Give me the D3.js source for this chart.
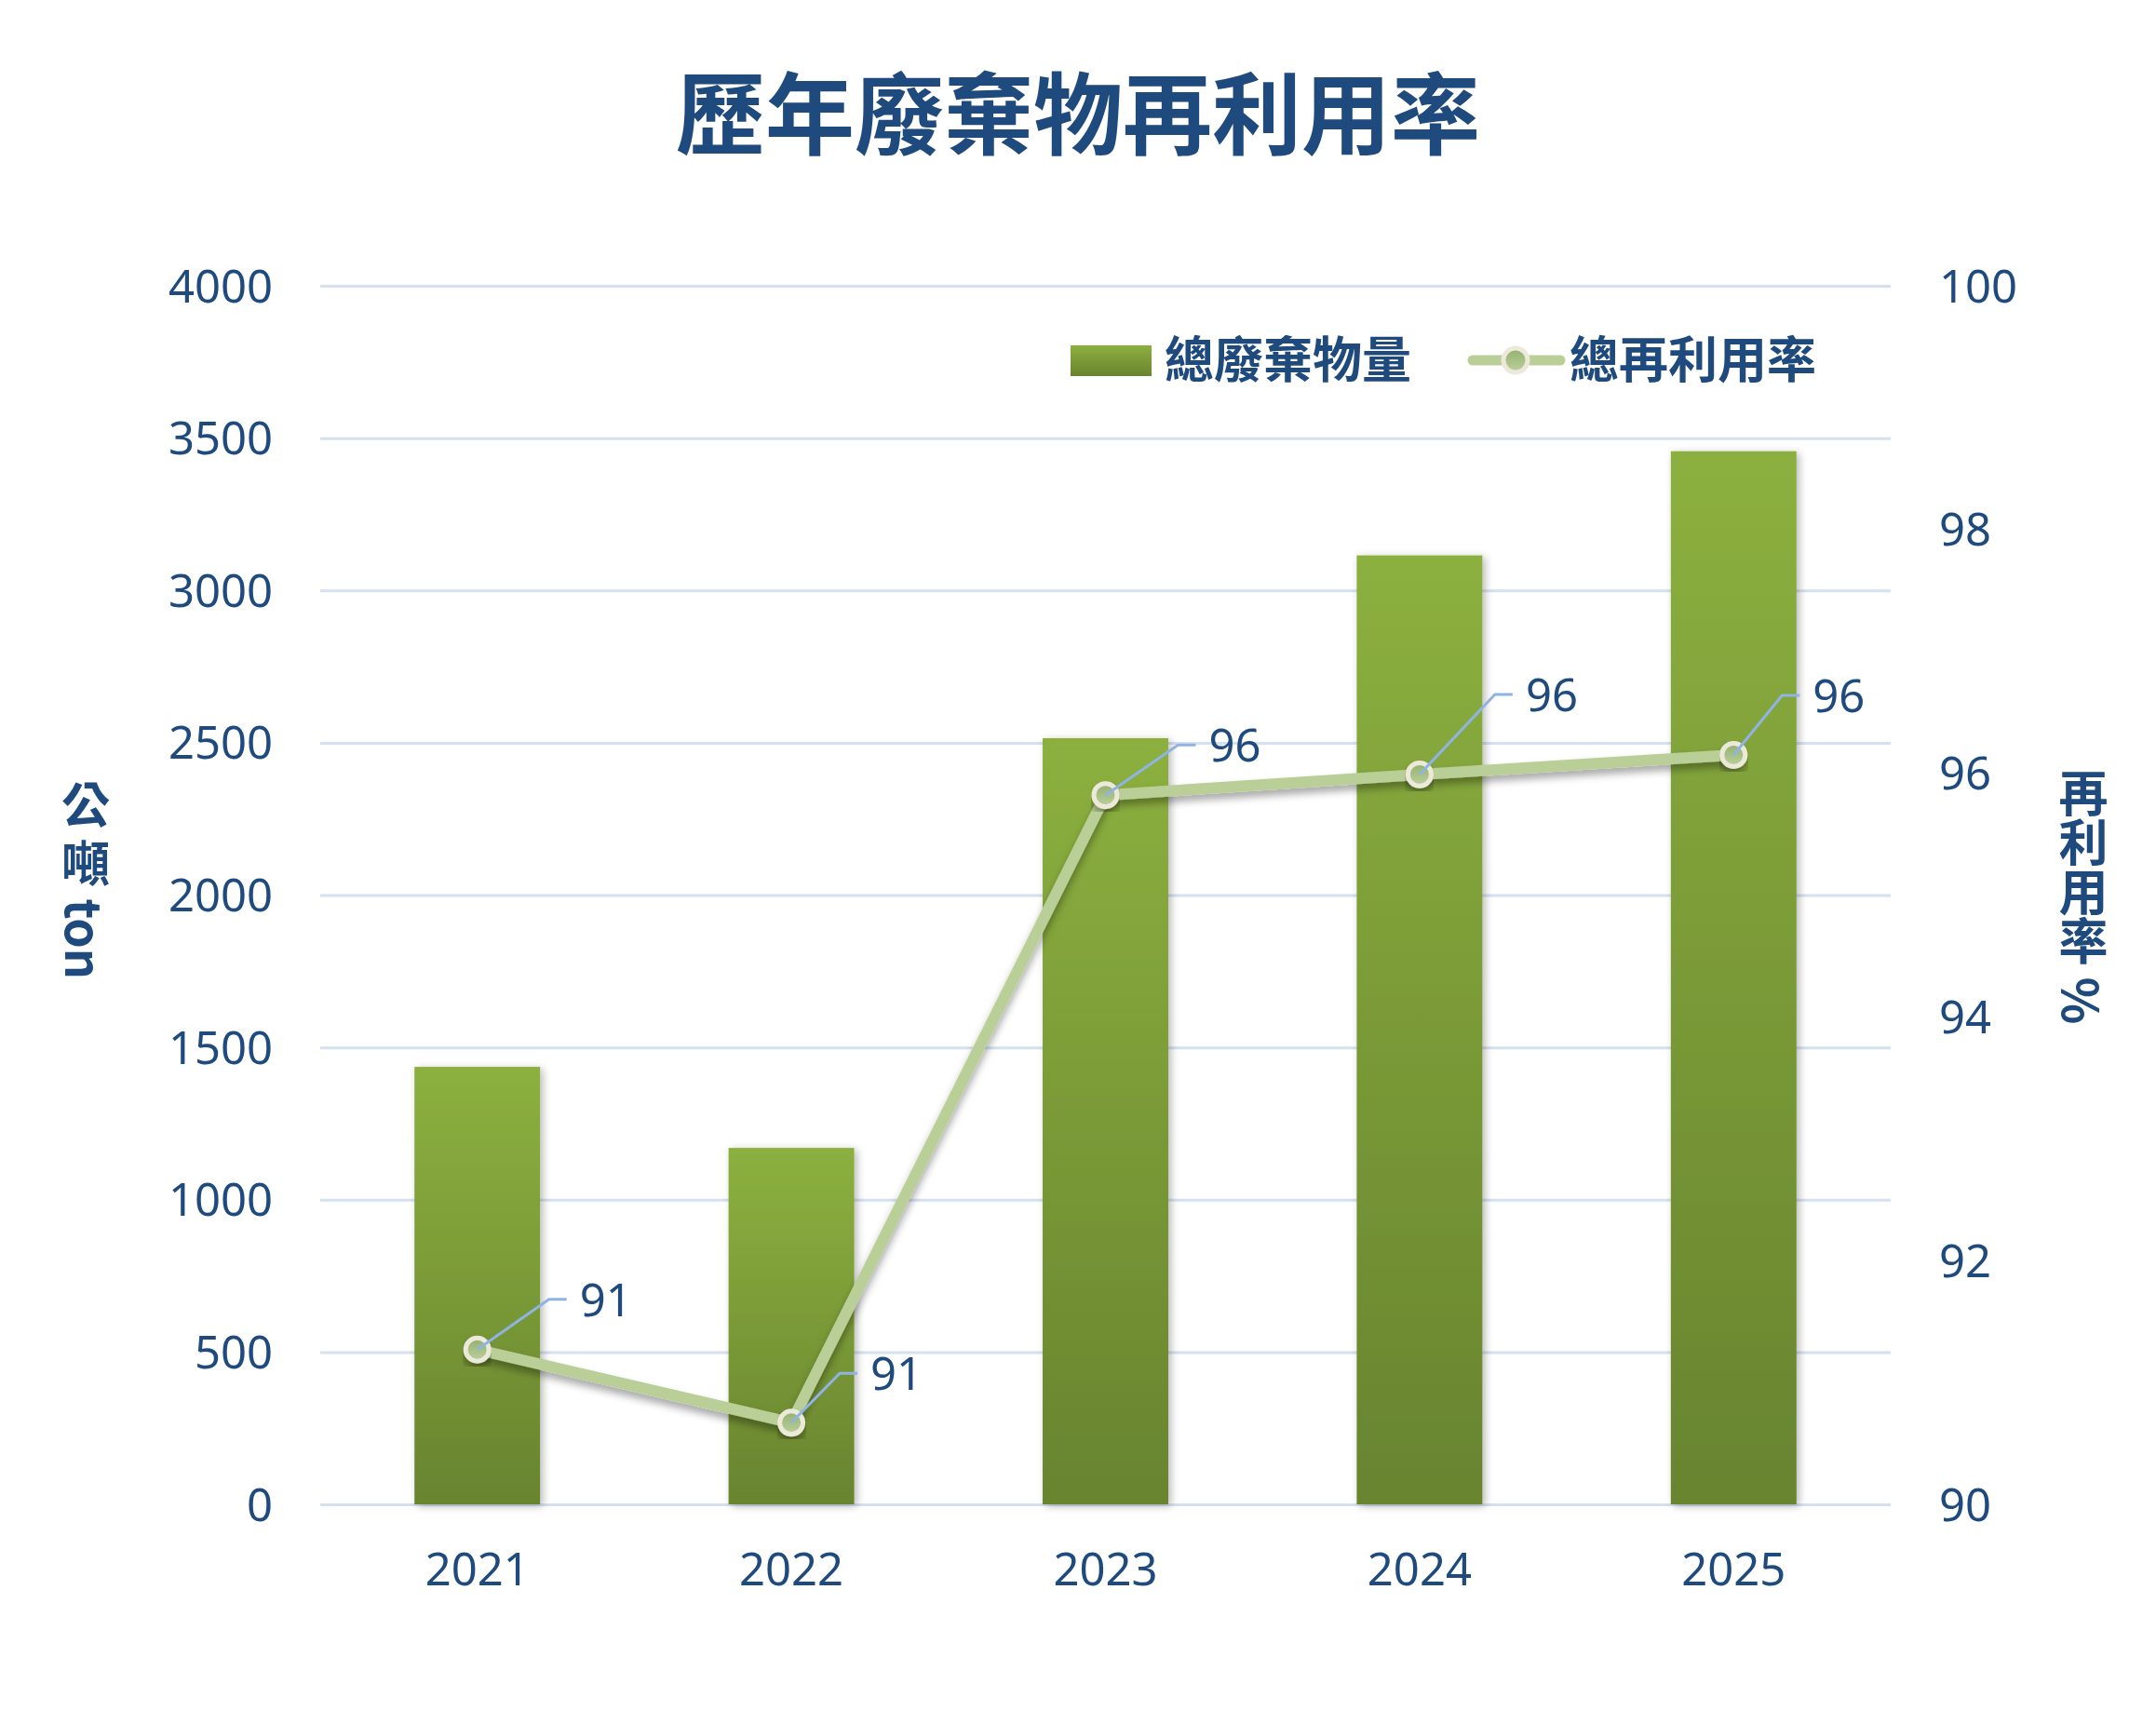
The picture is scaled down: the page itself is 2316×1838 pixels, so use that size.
<!DOCTYPE html>
<html><head><meta charset="utf-8">
<script src="https://cdn.jsdelivr.net/npm/d3@7"></script>
<style>
html,body{margin:0;padding:0;background:#fff;}
svg{display:block;}
text{font-family:"Noto Sans","Noto Sans CJK TC",sans-serif;}
</style></head>
<body>
<svg id="chart" width="2316" height="1838"></svg>
<script>
// ---- data ----
const years = ["2021", "2022", "2023", "2024", "2025"];
const wasteTons = [1436, 1170, 2515, 3115, 3457];
const reuseRate = [91.27, 90.67, 95.82, 95.99, 96.15];
const leftTicks = [0, 500, 1000, 1500, 2000, 2500, 3000, 3500, 4000];
const rightTicks = [90, 92, 94, 96, 98, 100];
const titleText = "歷年廢棄物再利用率";
const seriesNames = ["總廢棄物量", "總再利用率"];
const leftAxisTitle = "公 噸 ton";
const rightAxisTitle = "再利用率 %";

// ---- layout ----
const W = 2316, H = 1838;
const X0 = 344, X1 = 2031, YT = 307, YB = 1616;
const BLUE = "#1f4a7e";
const svg = d3.select("#chart");

const defs = svg.append("defs");
const bg = defs.append("linearGradient").attr("id","barGrad").attr("x1",0).attr("y1",0).attr("x2",0).attr("y2",1);
bg.append("stop").attr("offset","0%").attr("stop-color","#8cb03f");
bg.append("stop").attr("offset","100%").attr("stop-color","#68842f");
const mg = defs.append("linearGradient").attr("id","mkGrad").attr("x1",0).attr("y1",0).attr("x2",0).attr("y2",1);
mg.append("stop").attr("offset","0%").attr("stop-color","#92b06c");
mg.append("stop").attr("offset","100%").attr("stop-color","#bcd19f");
const f1 = defs.append("filter").attr("id","barShadow").attr("x","-20%").attr("y","-5%").attr("width","140%").attr("height","110%");
f1.append("feDropShadow").attr("dx",3).attr("dy",2).attr("stdDeviation",4).attr("flood-color","#000").attr("flood-opacity",0.28);
const f2 = defs.append("filter").attr("id","lineShadow").attr("x","-10%").attr("y","-10%").attr("width","120%").attr("height","130%");
f2.append("feDropShadow").attr("dx",0).attr("dy",6).attr("stdDeviation",4).attr("flood-color","#000").attr("flood-opacity",0.35);

const x = d3.scaleBand().domain(years).range([X0, X1]).padding(0);
const yL = d3.scaleLinear().domain([0, 4000]).range([YB, YT]);
const yR = d3.scaleLinear().domain([90, 100]).range([YB, YT]);
const barW = x.bandwidth() * 0.4;
const cx = d => x(d) + x.bandwidth() / 2;

// title
svg.append("text").attr("x", W/2).attr("y", 158).attr("text-anchor","middle")
  .attr("font-size", 96).attr("font-weight", 700).attr("fill", BLUE)
  .style("font-family", '"Noto Sans CJK TC",sans-serif').text(titleText);

// gridlines
const gridAxis = d3.axisLeft(yL).tickValues(leftTicks).tickSize(-(X1 - X0)).tickFormat("");
const gg = svg.append("g").attr("transform", `translate(${X0},0)`).call(gridAxis);
gg.select(".domain").remove();
gg.selectAll("line").attr("stroke", "#d5e0f0").attr("stroke-width", 3);

// left axis labels
const la = svg.append("g").attr("transform", `translate(293,0)`)
  .call(d3.axisLeft(yL).tickValues(leftTicks).tickSize(0).tickPadding(0).tickFormat(d3.format("d")));
la.select(".domain").remove();
la.selectAll("text").attr("font-size", 49).attr("fill", BLUE).attr("dy", null).attr("dominant-baseline", null)
  .attr("y", 17).style("font-family", '"Noto Sans",sans-serif');

// right axis labels
const ra = svg.append("g").attr("transform", `translate(2083,0)`)
  .call(d3.axisRight(yR).tickValues(rightTicks).tickSize(0).tickPadding(0).tickFormat(d3.format("d")));
ra.select(".domain").remove();
ra.selectAll("text").attr("font-size", 49).attr("fill", BLUE).attr("dy", null)
  .attr("y", 17).attr("x", 0).attr("text-anchor", "start").style("font-family", '"Noto Sans",sans-serif');

// x axis labels
const xa = svg.append("g").attr("transform", `translate(0,1703)`)
  .call(d3.axisBottom(x).tickSize(0).tickPadding(0));
xa.select(".domain").remove();
xa.selectAll("text").attr("font-size", 49).attr("fill", BLUE).attr("dy", null).attr("y", 0)
  .style("font-family", '"Noto Sans",sans-serif');

// axis titles (vertical writing)
svg.append("text").attr("x", 92).attr("y", 945).attr("text-anchor", "middle")
  .style("writing-mode", "vertical-rl").attr("font-size", 52).attr("font-weight", 700).attr("fill", BLUE)
  .style("font-family", '"Noto Sans CJK TC",sans-serif').text(leftAxisTitle);
svg.append("text").attr("x", 2238).attr("y", 963).attr("text-anchor", "middle")
  .style("writing-mode", "vertical-rl").attr("font-size", 53).attr("font-weight", 700).attr("fill", BLUE)
  .style("font-family", '"Noto Sans CJK TC",sans-serif').text(rightAxisTitle);

// bars
svg.append("g").selectAll("rect").data(years).join("rect")
  .attr("x", d => cx(d) - barW/2).attr("width", barW)
  .attr("y", (d,i) => yL(wasteTons[i])).attr("height", (d,i) => YB - yL(wasteTons[i]))
  .attr("fill", "url(#barGrad)").attr("filter", "url(#barShadow)");

// line
const line = d3.line().x(d => cx(d[0])).y(d => yR(d[1]));
const pts = years.map((y,i) => [y, reuseRate[i]]);
svg.append("path").datum(pts).attr("d", line).attr("fill","none")
  .attr("stroke","#b9cf97").attr("stroke-width",12).attr("stroke-linejoin","round")
  .attr("filter","url(#lineShadow)");
svg.append("g").selectAll("circle").data(pts).join("circle")
  .attr("cx", d => cx(d[0])).attr("cy", d => yR(d[1])).attr("r", 12.5)
  .attr("fill","url(#mkGrad)").attr("stroke","#ece9da").attr("stroke-width",5)
  .attr("filter","url(#lineShadow)");

// data labels with leader lines
const labelOffsets = [[77,-54],[52,-53],[78,-54],[81,-86],[52,-64]];
const lg = svg.append("g");
pts.forEach((d,i) => {
  const px = cx(d[0]), py = yR(d[1]);
  const [dx, dy] = labelOffsets[i];
  lg.append("polyline")
    .attr("points", `${px},${py} ${px+dx},${py+dy} ${px+dx+19},${py+dy}`)
    .attr("fill","none").attr("stroke","#8fb4e3").attr("stroke-width",3);
  lg.append("text").attr("x", px+dx+33).attr("y", py+dy+18)
    .attr("font-size", 49).attr("fill", BLUE).style("font-family", '"Noto Sans",sans-serif')
    .text(d3.format(".0f")(d[1]));
});

// legend
const leg = svg.append("g");
leg.append("rect").attr("x",1150).attr("y",371).attr("width",87).attr("height",33).attr("fill","url(#barGrad)");
leg.append("text").attr("x",1251).attr("y",406).attr("font-size",53).attr("font-weight",700).attr("fill",BLUE)
  .style("font-family", '"Noto Sans CJK TC",sans-serif').text(seriesNames[0]);
leg.append("line").attr("x1",1582).attr("x2",1676).attr("y1",387).attr("y2",387)
  .attr("stroke","#b9cf97").attr("stroke-width",11).attr("stroke-linecap","round");
leg.append("circle").attr("cx",1628).attr("cy",387).attr("r",13).attr("fill","url(#mkGrad)")
  .attr("stroke","#ece9da").attr("stroke-width",5);
leg.append("text").attr("x",1686).attr("y",406).attr("font-size",53).attr("font-weight",700).attr("fill",BLUE)
  .style("font-family", '"Noto Sans CJK TC",sans-serif').text(seriesNames[1]);
</script>
</body></html>
